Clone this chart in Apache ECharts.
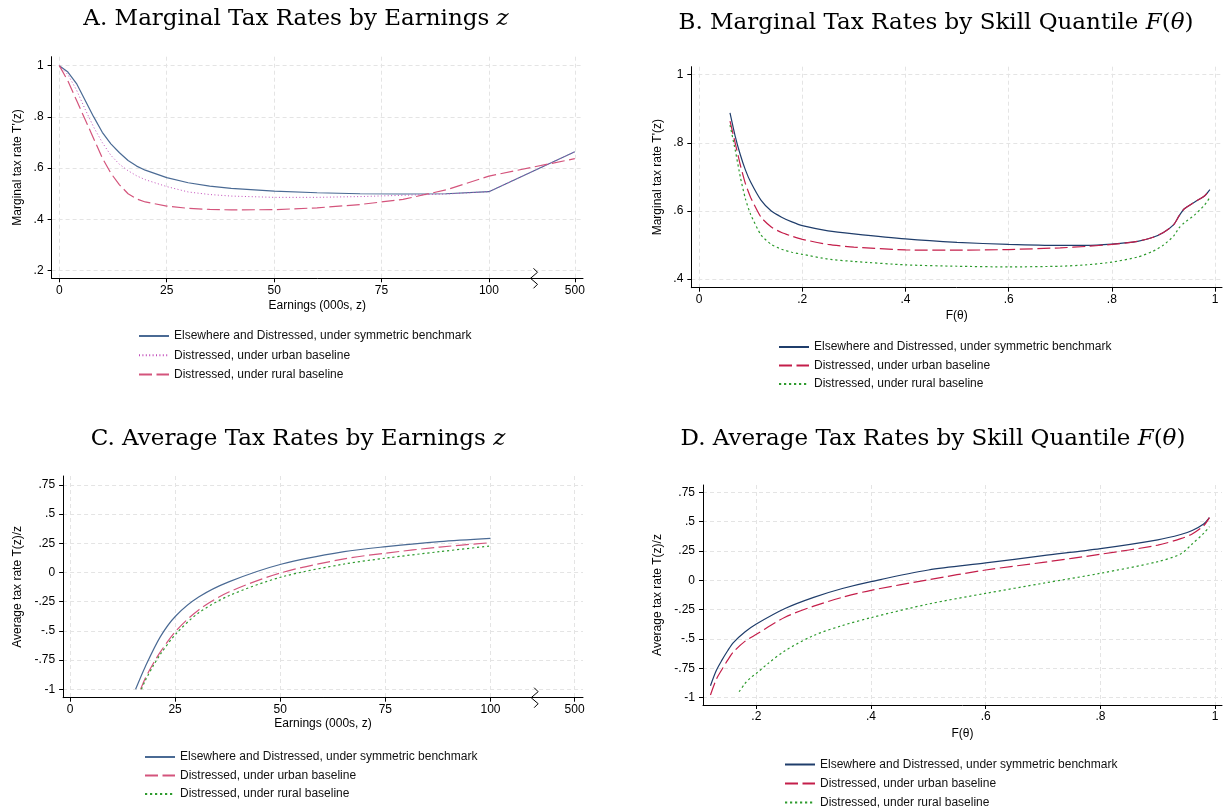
<!DOCTYPE html>
<html><head><meta charset="utf-8">
<script src="https://cdn.jsdelivr.net/npm/echarts@6/dist/echarts.min.js"></script>
<style>html,body{margin:0;padding:0;background:#fff}#c{width:1231px;height:812px}</style>
</head><body><div id="c"></div>
<script>
// ---------- DATA ----------
const seriesNames = ['Elsewhere and Distressed, under symmetric benchmark','Distressed, under urban baseline','Distressed, under rural baseline'];

// Panel A: marginal tax rates by earnings (000s)
const aEarn  = [0, 2, 4, 6, 8, 10, 12, 14, 16, 18, 20, 25, 30, 35, 40, 50, 60, 70, 80, 90, 100, 500];
const aSym   = [1.0, 0.975, 0.93, 0.865, 0.80, 0.74, 0.695, 0.66, 0.63, 0.608, 0.592, 0.563, 0.543, 0.530, 0.521, 0.510, 0.504, 0.500, 0.499, 0.500, 0.508, 0.664];
const aUrban = [1.0, 0.965, 0.905, 0.83, 0.76, 0.70, 0.65, 0.615, 0.59, 0.57, 0.555, 0.528, 0.507, 0.497, 0.491, 0.486, 0.486, 0.489, 0.494, 0.499, 0.508, 0.664];
const aRural = [1.0, 0.94, 0.865, 0.79, 0.715, 0.64, 0.58, 0.535, 0.50, 0.48, 0.468, 0.452, 0.443, 0.439, 0.437, 0.438, 0.445, 0.458, 0.478, 0.515, 0.569, 0.637];

// Panel B: marginal tax rates by skill quantile F(theta)
const bF     = [0.06, 0.07, 0.08, 0.09, 0.10, 0.12, 0.14, 0.16, 0.18, 0.2, 0.25, 0.3, 0.4, 0.5, 0.6, 0.7, 0.75, 0.8, 0.85, 0.88, 0.9, 0.92, 0.93, 0.94, 0.96, 0.98, 0.99];
const bSym   = [0.888, 0.82, 0.765, 0.72, 0.685, 0.632, 0.60, 0.582, 0.568, 0.557, 0.542, 0.533, 0.518, 0.508, 0.502, 0.499, 0.499, 0.503, 0.511, 0.523, 0.537, 0.56, 0.585, 0.606, 0.626, 0.645, 0.663];
const bUrban = [0.864, 0.80, 0.735, 0.68, 0.64, 0.582, 0.553, 0.537, 0.526, 0.517, 0.502, 0.494, 0.486, 0.485, 0.487, 0.492, 0.496, 0.502, 0.511, 0.523, 0.537, 0.56, 0.585, 0.606, 0.626, 0.645, 0.663];
const bRural = [0.852, 0.78, 0.70, 0.635, 0.59, 0.53, 0.502, 0.488, 0.479, 0.473, 0.459, 0.452, 0.442, 0.438, 0.436, 0.438, 0.442, 0.45, 0.465, 0.482, 0.500, 0.527, 0.55, 0.565, 0.588, 0.618, 0.64];

// Panel C: average tax rates by earnings (000s)
const cEarnSym   = [15.6, 17.9, 21.5, 25.2, 30.6, 37.9, 50.4, 65.2, 75.2, 87.9, 100];
const cSym       = [-1.0, -0.806, -0.549, -0.37, -0.21, -0.078, 0.073, 0.179, 0.222, 0.265, 0.293];
const cEarnUrban = [16.8, 17.9, 19.7, 21.5, 25.2, 30.6, 37.9, 50.4, 65.2, 75.2, 87.9, 100];
const cUrban     = [-1.0, -0.905, -0.785, -0.68, -0.50, -0.32, -0.165, 0.0, 0.117, 0.167, 0.218, 0.256];
const cEarnRural = [17, 17.9, 19.7, 21.5, 25.2, 30.6, 37.9, 50.4, 65.2, 75.2, 87.9, 100];
const cRural     = [-1.0, -0.925, -0.805, -0.70, -0.525, -0.345, -0.197, -0.037, 0.073, 0.124, 0.179, 0.228];

// Panel D: average tax rates by skill quantile F(theta)
const dFSym   = [0.12, 0.13, 0.14, 0.15, 0.16, 0.18, 0.2, 0.25, 0.3, 0.35, 0.4, 0.5, 0.6, 0.7, 0.8, 0.9, 0.94, 0.96, 0.98, 0.99];
const dSym    = [-0.898, -0.77, -0.68, -0.60, -0.53, -0.44, -0.372, -0.24, -0.145, -0.07, -0.011, 0.088, 0.148, 0.21, 0.27, 0.345, 0.39, 0.425, 0.48, 0.534];
const dFUrban = [0.12, 0.13, 0.14, 0.15, 0.16, 0.18, 0.2, 0.25, 0.3, 0.35, 0.4, 0.5, 0.6, 0.7, 0.8, 0.9, 0.94, 0.96, 0.98, 0.99];
const dUrban  = [-0.977, -0.845, -0.76, -0.68, -0.61, -0.52, -0.46, -0.315, -0.22, -0.145, -0.085, 0.005, 0.088, 0.153, 0.222, 0.30, 0.355, 0.395, 0.465, 0.534];
const dFRural = [0.17, 0.18, 0.19, 0.2, 0.22, 0.25, 0.3, 0.35, 0.4, 0.5, 0.6, 0.7, 0.8, 0.9, 0.94, 0.96, 0.98, 0.99];
const dRural  = [-0.949, -0.88, -0.83, -0.793, -0.71, -0.60, -0.47, -0.385, -0.318, -0.202, -0.111, -0.025, 0.06, 0.159, 0.225, 0.31, 0.40, 0.457];

// Tick labels
const earnTicks = [0, 25, 50, 75, 100, 500];
const aYTicks = [0.2, 0.4, 0.6, 0.8, 1];
const bXTicks = [0, 0.2, 0.4, 0.6, 0.8, 1];
const bYTicks = [0.4, 0.6, 0.8, 1];
const cdYTicks = [-1, -0.75, -0.5, -0.25, 0, 0.25, 0.5, 0.75];
const dXTicks = [0.2, 0.4, 0.6, 0.8, 1];

// ---------- HELPERS ----------
const BREAK_AT = 100, BREAK_SCALE = 20; // 100..500 drawn compressed
const brk = x => x <= BREAK_AT ? x : BREAK_AT + (x - BREAK_AT) / BREAK_SCALE;
const unbrk = p => p <= BREAK_AT + 1e-9 ? p : BREAK_AT + (p - BREAK_AT) * BREAK_SCALE;
const fmtNum = v => { let s = String(+(+v).toFixed(4)); return s.replace(/^0\./, '.').replace(/^-0\./, '-.'); };
const SANS = 'Liberation Sans, Arial, sans-serif';
const pairs = (xs, ys, f) => xs.map((x, i) => [f ? f(x) : x, ys[i]]);

function axis(gi, min, max, ticks, opts) {
  opts = opts || {};
  return {
    type: 'value', gridIndex: gi, min, max, scale: true,
    name: opts.name || '', nameLocation: 'middle', nameGap: opts.nameGap || 20,
    nameTextStyle: {fontFamily: SANS, fontSize: 12, color: '#000'},
    axisLine: {show: true, onZero: false, lineStyle: {color: '#000', width: 1}},
    axisTick: {show: true, length: 4, lineStyle: {color: '#000'}, customValues: ticks},
    axisLabel: {customValues: ticks, color: '#000', fontSize: 12, fontFamily: SANS, margin: opts.margin || 6,
      formatter: opts.fmt || fmtNum, showMinLabel: true, showMaxLabel: true},
    splitLine: {show: true, lineStyle: {color: '#e4e4e4', type: [4, 3], width: 1}}
  };
}
function ser(name, gi, data, color, type, width, smooth) {
  return {name, type: 'line', xAxisIndex: gi, yAxisIndex: gi, data, symbol: 'none', showSymbol: false,
    smooth: smooth || false, lineStyle: {color, type, width: width || 1.2}, itemStyle: {color},
    silent: true, animation: false, clip: true, z: 3};
}
const tag = (n, p) => n + '@' + p;

const cSymA = '#4a6a94', cSymB = '#1f3d6b';
const cUrbA = '#c24cba', cRurA = '#d4547c';
const cUrbB = '#c41e4a', cGreen = '#2e9b2e';
const DASH = [13, 4.5], DOT = [2.2, 2.8], FINEDOT = [1, 2.4];

const grids = [
  {left: 51.6, top: 56.7, width: 531.4, height: 221.6},
  {left: 691.3, top: 66.7, width: 530.7, height: 221},
  {left: 63.1, top: 476, width: 519.9, height: 221.7},
  {left: 703, top: 485, width: 519, height: 220}
];
const earnFmt = v => String(Math.round(unbrk(v)));

const xAxes = [
  axis(0, -1.8, 121.9, earnTicks.map(brk), {name: 'Earnings (000s, z)', nameGap: 21, fmt: earnFmt}),
  axis(1, -0.015, 1.0135, bXTicks, {name: 'F(θ)', nameGap: 22}),
  axis(2, -1.64, 122, earnTicks.map(brk), {name: 'Earnings (000s, z)', nameGap: 20, fmt: earnFmt}),
  axis(3, 0.107, 1.012, dXTicks, {name: 'F(θ)', nameGap: 23})
];
const yAxes = [
  axis(0, 0.17, 1.035, aYTicks, {name: "Marginal tax rate T'(z)", nameGap: 27.6, margin: 8}),
  axis(1, 0.375, 1.0235, bYTicks, {name: "Marginal tax rate T'(z)", nameGap: 27.3, margin: 8}),
  axis(2, -1.072, 0.827, cdYTicks, {name: 'Average tax rate T(z)/z', nameGap: 39, margin: 8}),
  axis(3, -1.062, 0.812, cdYTicks, {name: 'Average tax rate T(z)/z', nameGap: 39, margin: 8})
];

const series = [
  ser(tag(seriesNames[0], 'A'), 0, pairs(aEarn, aSym, brk), cSymA, 'solid'),
  ser(tag(seriesNames[1], 'A'), 0, pairs(aEarn, aUrban, brk), cUrbA, FINEDOT, 1),
  ser(tag(seriesNames[2], 'A'), 0, pairs(aEarn, aRural, brk), cRurA, DASH),
  ser(tag(seriesNames[0], 'B'), 1, pairs(bF, bSym), cSymB, 'solid', 1.2, 0.2),
  ser(tag(seriesNames[1], 'B'), 1, pairs(bF, bUrban), cUrbB, DASH, 1.2, 0.2),
  ser(tag(seriesNames[2], 'B'), 1, pairs(bF, bRural), cGreen, DOT, 1.2, 0.2),
  ser(tag(seriesNames[0], 'C'), 2, pairs(cEarnSym, cSym, brk), cSymA, 'solid', 1.2, 0.3),
  ser(tag(seriesNames[1], 'C'), 2, pairs(cEarnUrban, cUrban, brk), cRurA, DASH, 1.2, 0.3),
  ser(tag(seriesNames[2], 'C'), 2, pairs(cEarnRural, cRural, brk), cGreen, DOT, 1.2, 0.3),
  ser(tag(seriesNames[0], 'D'), 3, pairs(dFSym, dSym), cSymB, 'solid', 1.2, 0.3),
  ser(tag(seriesNames[1], 'D'), 3, pairs(dFUrban, dUrban), cUrbB, DASH, 1.2, 0.3),
  ser(tag(seriesNames[2], 'D'), 3, pairs(dFRural, dRural), cGreen, DOT, 1.2, 0.3)
];

function legend(p, left, top, gap) {
  return {orient: 'vertical', left, top, padding: 0, itemWidth: 30, itemHeight: 14, itemGap: gap,
    height: 70,
    data: seriesNames.map(n => tag(n, p)), selectedMode: false,
    itemStyle: {opacity: 0, borderWidth: 0},
    formatter: n => n.split('@')[0],
    textStyle: {fontFamily: SANS, fontSize: 12, color: '#111'}};
}
const legends = [
  legend('A', 138, 330, 7.2),
  legend('B', 778, 341, 6.5),
  legend('C', 144, 751, 6.5),
  legend('D', 784, 758.5, 7)
];

const chart = echarts.init(document.getElementById('c'), null, {renderer: 'canvas'});
chart.setOption({
  animation: false, backgroundColor: '#fff',
  grid: grids, xAxis: xAxes, yAxis: yAxes, series, legend: legends
});

// Titles and axis-break marks
const SERIF = 'DejaVu Serif, Liberation Serif, serif';
const rich = {
  r: {fontFamily: SERIF, fontSize: 23, color: '#000'},
  i: {fontFamily: SERIF, fontSize: 23, fontStyle: 'italic', color: '#000'}
};
function title(x, y, parts) {
  return {type: 'text', x, y, silent: true,
    style: {text: parts, rich, align: 'center', verticalAlign: 'middle'}};
}
const graphics = [
  title(296, 19, '{r|A. Marginal Tax Rates by Earnings }{i|z}'),
  title(936, 23, '{r|B. Marginal Tax Rates by Skill Quantile }{i|F}{r|(}{i|θ}{r|)}'),
  title(298, 439, '{r|C. Average Tax Rates by Earnings }{i|z}'),
  title(933, 439, '{r|D. Average Tax Rates by Skill Quantile }{i|F}{r|(}{i|θ}{r|)}')
];
[[0, 0.17], [2, -1.072]].forEach(([gi, ymin]) => {
  const p = chart.convertToPixel({gridIndex: gi}, [110.5, ymin]);
  const px = p[0], py = p[1];
  graphics.push({type: 'polyline', silent: true, z: 10,
    shape: {points: [[px - 0.5, py - 10], [px + 3.5, py - 6], [px - 3.5, py], [px + 3.5, py + 6], [px - 0.5, py + 10]]},
    style: {stroke: '#000', fill: null, lineWidth: 1}});
});
chart.setOption({graphic: graphics});
</script>
</body></html>
